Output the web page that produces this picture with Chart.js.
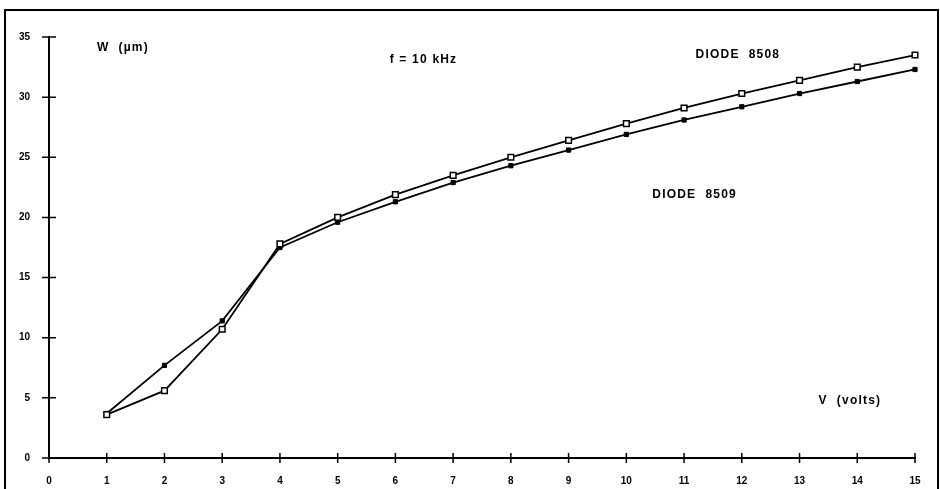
<!DOCTYPE html>
<html>
<head>
<meta charset="utf-8">
<script src="https://cdn.jsdelivr.net/npm/chart.js@4.4.0/dist/chart.umd.min.js"></script>
<style>
  html, body { margin: 0; padding: 0; background: #fff; }
  #wrap { width: 940px; height: 489px; }
</style>
</head>
<body>
<div id="wrap"><canvas id="chart"></canvas></div>
<script>
// Bias voltage (V) and depletion width W (um) at f = 10 kHz
const volts = [1, 2, 3, 4, 5, 6, 7, 8, 9, 10, 11, 12, 13, 14, 15];
const diode8508 = [3.6, 5.6, 10.7, 17.8, 20.0, 21.9, 23.5, 25.0, 26.4, 27.8, 29.1, 30.3, 31.4, 32.5, 33.5];
const diode8509 = [3.7, 7.7, 11.4, 17.5, 19.6, 21.3, 22.9, 24.3, 25.6, 26.9, 28.1, 29.2, 30.3, 31.3, 32.3];
const xTicks = [0, 1, 2, 3, 4, 5, 6, 7, 8, 9, 10, 11, 12, 13, 14, 15];
const yTicks = [0, 5, 10, 15, 20, 25, 30, 35];

// text notes placed in data coordinates
const notes = [
    { text: 'W  (\u00b5m)', x: 0.83, y: 34.1 },
    { text: 'f = 10 kHz', x: 5.9, y: 33.1 },
    { text: 'DIODE  8508', x: 11.2, y: 33.5 },
    { text: 'DIODE  8509', x: 10.45, y: 21.9 },
    { text: 'V  (volts)', x: 13.33, y: 4.8 }
];

const fontFamily = '"Liberation Sans", Arial, sans-serif';

// page frame, ticks crossing the axes, text notes
const framePlugin = {
    id: 'frame',
    beforeDraw(chart) {
        const ctx = chart.ctx;
        ctx.save();
        ctx.strokeStyle = '#000';
        ctx.lineWidth = 2;
        ctx.beginPath();
        ctx.moveTo(5, 489);
        ctx.lineTo(5, 10);
        ctx.lineTo(938, 10);
        ctx.lineTo(938, 489);
        ctx.stroke();
        ctx.restore();
    },
    afterDatasetsDraw(chart) {
        const ctx = chart.ctx;
        const x = chart.scales.x, y = chart.scales.y;
        ctx.save();
        ctx.strokeStyle = '#000';
        ctx.lineWidth = 1.5;
        ctx.beginPath();
        xTicks.forEach(v => {
            const px = x.getPixelForValue(v);
            ctx.moveTo(px, y.bottom - 5);
            ctx.lineTo(px, y.bottom + 5);
        });
        yTicks.forEach(v => {
            const py = y.getPixelForValue(v);
            ctx.moveTo(x.left - 7, py);
            ctx.lineTo(x.left + 7, py);
        });
        ctx.stroke();

        ctx.fillStyle = '#000';
        ctx.font = 'bold 12px ' + fontFamily;
        ctx.letterSpacing = '1.2px';
        ctx.textBaseline = 'middle';
        ctx.textAlign = 'left';
        notes.forEach(n => {
            ctx.fillText(n.text, x.getPixelForValue(n.x), y.getPixelForValue(n.y));
        });
        ctx.restore();
    }
};

new Chart(document.getElementById('chart'), {
    type: 'line',
    data: {
        datasets: [
            {
                label: 'DIODE 8508',
                data: volts.map((v, i) => ({ x: v, y: diode8508[i] })),
                borderColor: '#000',
                borderWidth: 1.8,
                pointStyle: 'rect',
                pointRadius: 4,
                pointBackgroundColor: '#fff',
                pointBorderColor: '#000',
                pointBorderWidth: 1.5,
                tension: 0,
                clip: false
            },
            {
                label: 'DIODE 8509',
                data: volts.map((v, i) => ({ x: v, y: diode8509[i] })),
                borderColor: '#000',
                borderWidth: 1.8,
                pointStyle: 'rect',
                pointRadius: 3,
                pointBackgroundColor: '#000',
                pointBorderColor: '#000',
                pointBorderWidth: 1,
                tension: 0,
                clip: false
            }
        ]
    },
    options: {
        responsive: true,
        maintainAspectRatio: false,
        animation: false,
        layout: { padding: { left: 0, right: 25, top: 37, bottom: 0 } },
        plugins: {
            legend: { display: false },
            tooltip: { enabled: false }
        },
        scales: {
            x: {
                type: 'linear',
                min: 0,
                max: 15,
                afterFit(scale) { scale.height = 31; },
                afterBuildTicks(scale) { scale.ticks = xTicks.map(v => ({ value: v })); },
                grid: { display: false, drawTicks: false },
                border: { display: true, color: '#000', width: 2 },
                ticks: {
                    padding: 17,
                    color: '#000',
                    font: { family: fontFamily, size: 10, weight: 'bold' }
                }
            },
            y: {
                type: 'linear',
                min: 0,
                max: 35,
                afterFit(scale) { scale.width = 49; },
                afterBuildTicks(scale) { scale.ticks = yTicks.map(v => ({ value: v })); },
                grid: { display: false, drawTicks: false },
                border: { display: true, color: '#000', width: 2 },
                ticks: {
                    padding: 19,
                    color: '#000',
                    font: { family: fontFamily, size: 10, weight: 'bold' }
                }
            }
        }
    },
    plugins: [framePlugin]
});
</script>
</body>
</html>
